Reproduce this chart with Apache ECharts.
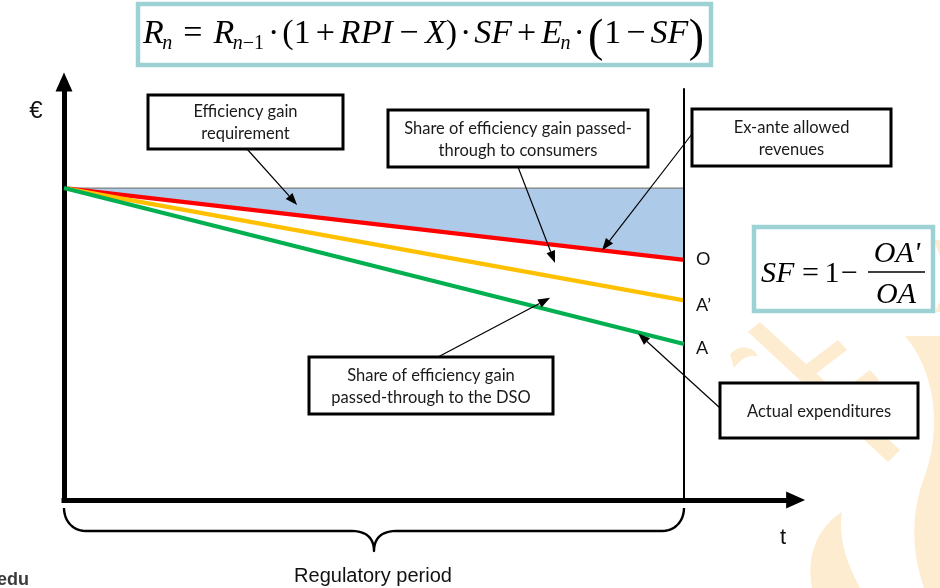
<!DOCTYPE html>
<html>
<head>
<meta charset="utf-8">
<title>Sharing factor in revenue-cap regulation</title>
<script src="https://cdn.jsdelivr.net/npm/echarts@6/dist/echarts.min.js"></script>
<style>
html, body { margin: 0; padding: 0; background: #ffffff; }
#chart { width: 940px; height: 588px; }
</style>
</head>
<body>
<div id="chart"></div>
<script>
// ---------- data ----------
const periodT = [0, 10];              // start and end of the regulatory period
const ceilingLevel = [100, 100];      // revenue level held flat from the start
const allowedRevenue = [100, 77];     // O  : ex-ante allowed revenues
const sharedLevel = [100, 64];        // A' : level once the gain is shared
const actualCost = [100, 50];         // A  : actual expenditures
const endNames = ['O', 'A\u2019', 'A'];
const calloutTexts = [
  ['Efficiency gain', 'requirement'],
  ['Share of efficiency gain passed-', 'through to consumers'],
  ['Ex-ante allowed', 'revenues'],
  ['Share of efficiency gain', 'passed-through to the DSO'],
  ['Actual expenditures']
];
const periodLabel = 'Regulatory period';
const axisNames = ['t', '\u20ac'];

// ---------- scales ----------
const X_MAX = 11.8;       // room on the time axis past the end of the period
const Y_MAX = 134;
const DIVIDER_TOP = 132;  // height of the end-of-period marker

const pts = arr => periodT.map((t, i) => [t, arr[i]]);
const levelAt = (arr, t) => arr[0] + (arr[1] - arr[0]) * (t - periodT[0]) / (periodT[1] - periodT[0]);

const chart = echarts.init(document.getElementById('chart'), null, { renderer: 'canvas' });

const axisCommon = {
  type: 'value',
  z: 5,
  axisLine: {
    show: true, onZero: false,
    lineStyle: { color: '#000', width: 5, cap: 'square' },
    symbol: ['none', 'triangle'],
    symbolSize: [17, 19]
  },
  axisTick: { show: false },
  axisLabel: { show: false },
  splitLine: { show: false }
};

const lineSeries = (arr, color, idx, offset) => ({
  type: 'line',
  data: pts(arr),
  symbol: 'none',
  silent: true,
  z: 3 + idx,
  lineStyle: { color: color, width: 4.2, cap: 'butt' },
  endLabel: {
    show: true,
    formatter: endNames[idx],
    color: '#111',
    fontFamily: 'Lato, "Open Sans", sans-serif',
    fontSize: 18,
    distance: 12,
    offset: offset
  }
});

chart.setOption({
  animation: false,
  grid: { left: 64, right: 144.4, top: 82, bottom: 88, containLabel: false, outerBoundsMode: 'none' },
  xAxis: Object.assign({ min: 0, max: X_MAX }, axisCommon),
  yAxis: Object.assign({ min: 0, max: Y_MAX }, axisCommon),
  series: [
    {
      // shaded gap between the flat level and the allowed-revenue path
      type: 'custom',
      silent: true,
      z: 1,
      data: [[periodT[0], ceilingLevel[0]]],
      renderItem: function (params, api) {
        const poly = [];
        periodT.forEach((t, i) => poly.push(api.coord([t, ceilingLevel[i]])));
        for (let i = periodT.length - 1; i >= 0; i--) poly.push(api.coord([periodT[i], allowedRevenue[i]]));
        return { type: 'polygon', shape: { points: poly }, style: { fill: '#adcae9' } };
      }
    },
    {
      type: 'line', data: pts(ceilingLevel), symbol: 'none', silent: true, z: 2,
      lineStyle: { color: '#7f7f7f', width: 1.2 }
    },
    Object.assign(lineSeries(allowedRevenue, '#ff0000', 0, [0, -1]), {
      markLine: {
        silent: true, symbol: 'none', label: { show: false },
        lineStyle: { color: '#000', width: 2, type: 'solid' },
        data: [[{ coord: [periodT[1], 0] }, { coord: [periodT[1], DIVIDER_TOP] }]]
      }
    }),
    lineSeries(sharedLevel, '#ffc000', 1, [0, 5]),
    lineSeries(actualCost, '#00b050', 2, [0, 4])
  ]
});

// ---------- annotations ----------
const measureCtx = document.createElement('canvas').getContext('2d');
const SERIF = '"Liberation Serif", "Times New Roman", serif';
function fontOf(fs, size) { return fs + ' ' + size + 'px ' + SERIF; }
function midShift(fs, size) {
  measureCtx.font = fontOf(fs, size);
  measureCtx.textBaseline = 'middle';
  return measureCtx.measureText('H').actualBoundingBoxDescent;
}
function advance(s, fs, size) {
  measureCtx.font = fontOf(fs, size);
  return measureCtx.measureText(s).width;
}
function glyph(s, x, baseline, size, italic, align) {
  const fs = italic ? 'italic' : 'normal';
  return {
    type: 'text', z: 120,
    style: {
      text: s, x: x, y: baseline - midShift(fs, size),
      fontSize: size, fontFamily: SERIF, fontStyle: fs,
      fill: '#000', align: align || 'left', verticalAlign: 'middle'
    }
  };
}
// set a row of math pieces between x0 and x1; the gaps are stretched to fill the span
function mathRow(pieces, x0, x1, baseline) {
  const widths = pieces.map(p => advance(p.s, p.it ? 'italic' : 'normal', p.size));
  const inkW = widths.reduce((a, b) => a + b, 0);
  const gapW = pieces.reduce((a, p) => a + (p.g || 0), 0);
  const k = gapW > 0 ? (x1 - x0 - inkW) / gapW : 1;
  let x = x0;
  return pieces.map((p, i) => {
    x += (p.g || 0) * k;
    const el = glyph(p.s, x, baseline + (p.dy || 0), p.size, !!p.it);
    x += widths[i];
    return el;
  });
}

// turn a start point plus segments ([x,y] straight, [c1x,c1y,c2x,c2y,x,y] cubic) into points
function trace(start, segs) {
  const out = [start.slice()];
  let p = start;
  segs.forEach(s => {
    if (s.length === 2) { out.push(s.slice()); p = s; return; }
    for (let k = 1; k <= 12; k++) {
      const t = k / 12, u = 1 - t;
      out.push([
        u * u * u * p[0] + 3 * u * u * t * s[0] + 3 * u * t * t * s[2] + t * t * t * s[4],
        u * u * u * p[1] + 3 * u * u * t * s[1] + 3 * u * t * t * s[3] + t * t * t * s[5]
      ]);
    }
    p = [s[4], s[5]];
  });
  return out;
}

function arrow(from, to) {
  const dx = to[0] - from[0], dy = to[1] - from[1];
  const len = Math.hypot(dx, dy), ux = dx / len, uy = dy / len;
  const hl = 12, hw = 9;
  const bx = to[0] - ux * hl, by = to[1] - uy * hl;
  return [
    { type: 'line', z: 110, shape: { x1: from[0], y1: from[1], x2: bx, y2: by },
      style: { stroke: '#000', lineWidth: 1.2 } },
    { type: 'polygon', z: 110,
      shape: { points: [to, [bx - uy * hw / 2, by + ux * hw / 2], [bx + uy * hw / 2, by - ux * hw / 2]] },
      style: { fill: '#000' } }
  ];
}

// callout boxes (pixels) and the point each arrow reaches (time, level)
const calloutLayout = [
  { rect: [148, 95, 195, 54], tail: [247, 149], head: [3.76, 94.6] },
  { rect: [388, 110, 260, 57], tail: [518, 167], head: [7.92, 76.0] },
  { rect: [692, 109, 199, 57], tail: [692, 134], head: [8.68, levelAt(allowedRevenue, 8.68)] },
  { rect: [309, 357, 244, 57], tail: [438, 357], head: [7.84, 64.8] },
  { rect: [720, 383, 198, 55], tail: [720, 408], head: [9.26, levelAt(actualCost, 9.26) - 0.3] }
];

const g = [];

// faint emblem in the lower right
const WM = '#fdecd0';
[
  trace([933, 240], [[946, 262, 946, 292, 935, 312], [940, 312], [940, 240]]),
  trace([748, 332], [[760, 322], [900, 450], [888, 462]]),
  trace([796, 372], [[838, 340], [847, 350], [805, 382]]),
  trace([828, 402], [[870, 370], [879, 380], [837, 412]]),
  trace([905, 336], [[936, 372, 942, 430, 924, 478], [912, 510, 910, 548, 924, 588], [940, 588], [940, 336]]),
  trace([812, 588], [[806, 558, 816, 528, 842, 512], [838, 536, 846, 562, 860, 588]]),
  trace([730, 354], [[740, 344, 752, 346, 758, 356], [748, 354, 740, 360, 734, 368]])
].forEach(p => g.push({ type: 'polygon', z: 0, shape: { points: p }, style: { fill: WM } }));

// end-of-period brace
g.push({
  type: 'polyline', z: 50,
  shape: { points: trace([64, 508], [
    [64, 520, 72, 531, 86, 531], [352, 531],
    [366, 531, 374, 538, 374, 551], [374, 538, 382, 531, 396, 531], [662, 531],
    [676, 531, 684, 520, 684, 508]
  ]) },
  style: { stroke: '#000', lineWidth: 2.4, fill: null, lineJoin: 'round' }
});
g.push({ type: 'text', z: 50, style: {
  text: periodLabel, x: 373, y: 576, align: 'center', verticalAlign: 'middle',
  fontSize: 20, fontFamily: '"Liberation Sans Narrow", "Liberation Sans", Arial, sans-serif', fill: '#111' } });
g.push({ type: 'text', z: 50, style: {
  text: axisNames[0], x: 783, y: 538, align: 'center', verticalAlign: 'middle',
  fontSize: 22, fontFamily: '"Liberation Sans", Arial, sans-serif', fill: '#111' } });
g.push({ type: 'text', z: 50, style: {
  text: axisNames[1], x: 36, y: 111, align: 'center', verticalAlign: 'middle',
  fontSize: 24, fontFamily: '"Liberation Sans", Arial, sans-serif', fill: '#111' } });
g.push({ type: 'text', z: 50, style: {
  text: 'edu', x: -3, y: 580, align: 'left', verticalAlign: 'middle',
  fontSize: 18, fontWeight: 'bold', fontFamily: '"Liberation Sans", Arial, sans-serif', fill: '#3a3a3a' } });

calloutLayout.forEach((c, i) => {
  const [x, y, w, h] = c.rect;
  const tip = chart.convertToPixel({ gridIndex: 0 }, c.head);
  arrow(c.tail, tip).forEach(e => g.push(e));
  g.push({ type: 'rect', z: 115, shape: { x: x, y: y, width: w, height: h },
    style: { fill: '#ffffff', stroke: '#000', lineWidth: 3 } });
  g.push({ type: 'text', z: 116, style: {
    text: calloutTexts[i].join('\n'), x: x + w / 2, y: y + h / 2 + 1,
    align: 'center', verticalAlign: 'middle', lineHeight: 22,
    fontSize: 16.5, fontFamily: 'Lato, "Open Sans", sans-serif', fill: '#1a1a1a' } });
});

// revenue-cap formula
const TEAL = '#9dd2d5';
g.push({ type: 'rect', z: 118, shape: { x: 138, y: 4, width: 573, height: 61 },
  style: { fill: '#fff', stroke: TEAL, lineWidth: 4.5 } });
const S = 34, SS = 20, BIG = 46, SUBDY = 6, BIGDY = 8;
mathRow([
  { s: 'R', it: 1, size: S }, { s: 'n', it: 1, size: SS, dy: SUBDY, g: -0.3 },
  { s: '=', size: S, g: 2.2 },
  { s: 'R', it: 1, size: S, g: 2.2 }, { s: 'n', it: 1, size: SS, dy: SUBDY, g: -0.3 },
  { s: '\u22121', size: SS, dy: SUBDY },
  { s: '\u00b7', size: S, g: 0.8 }, { s: '(', size: S, g: 0.6 }, { s: '1', size: S },
  { s: '+', size: S, g: 1.0 }, { s: 'RPI', it: 1, size: S, g: 1.0 },
  { s: '\u2212', size: S, g: 1.3 }, { s: 'X', it: 1, size: S, g: 1.3 },
  { s: ')', size: S }, { s: '\u00b7', size: S, g: 0.6 }, { s: 'SF', it: 1, size: S, g: 0.6 },
  { s: '+', size: S, g: 1.0 }, { s: 'E', it: 1, size: S, g: 1.0 },
  { s: 'n', it: 1, size: SS, dy: SUBDY, g: -0.3 },
  { s: '\u00b7', size: S, g: 0.6 }, { s: '(', size: BIG, dy: BIGDY, g: 0.6 }, { s: '1', size: S, g: 0.2 },
  { s: '\u2212', size: S, g: 1.0 }, { s: 'SF', it: 1, size: S, g: 1.0 }, { s: ')', size: BIG, dy: BIGDY, g: 0.1 }
], 143, 704, 43).forEach(e => g.push(e));

// sharing-factor formula
g.push({ type: 'rect', z: 118, shape: { x: 754, y: 227, width: 179, height: 84 },
  style: { fill: '#fff', stroke: TEAL, lineWidth: 4.5 } });
mathRow([
  { s: 'SF', it: 1, size: 30 }, { s: '=', size: 30, g: 1.4 },
  { s: '1', size: 30, g: 1.0 }, { s: '\u2212', size: 30, g: 0.3 }
], 761, 858, 282).forEach(e => g.push(e));
g.push(glyph('OA\'', 897, 262, 30, true, 'center'));
g.push(glyph('OA', 896, 303, 30, true, 'center'));
g.push({ type: 'line', z: 120, shape: { x1: 868, y1: 272, x2: 925, y2: 272 },
  style: { stroke: '#000', lineWidth: 1.3 } });

chart.setOption({ graphic: { elements: g } });
</script>
</body>
</html>
